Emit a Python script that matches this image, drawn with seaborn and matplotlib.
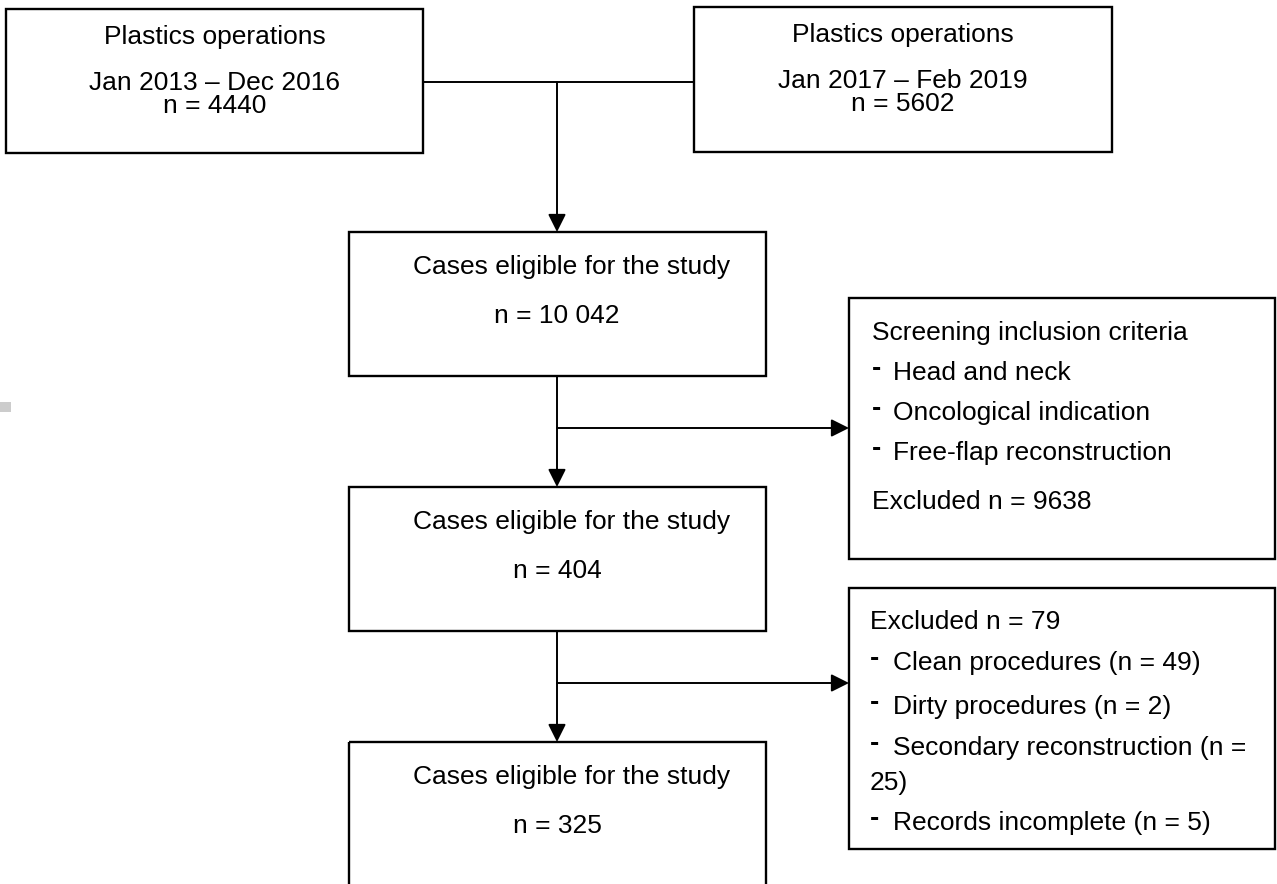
import matplotlib
matplotlib.use("Agg")
import matplotlib.pyplot as plt
import matplotlib.patches as patches
import seaborn as sns

# Flowchart data
period_labels = ["Jan 2013 – Dec 2016", "Jan 2017 – Feb 2019"]
period_n = [4440, 5602]
stage_label = "Cases eligible for the study"
stage_n = [10042, 404, 325]
screen_title = "Screening inclusion criteria"
screen_criteria = ["Head and neck", "Oncological indication", "Free-flap reconstruction"]
screen_excluded = 9638
excluded_total = 79
exclusion_reasons = ["Clean procedures", "Dirty procedures", "Secondary reconstruction", "Records incomplete"]
exclusion_n = [49, 2, 25, 5]


def fmt_n(n):
    # five-digit numbers get a space as thousands separator (as in the original)
    if n >= 10000:
        return f"{n:,}".replace(",", " ")
    return str(n)


sns.set_theme(style="white")
plt.rcParams['font.family'] = ['Liberation Sans', 'DejaVu Sans']
plt.rcParams['text.color'] = 'black'

fig = plt.figure(figsize=(12.77, 8.84), dpi=100)
ax = fig.add_axes([0, 0, 1, 1])
ax.set_xlim(0, 1277)
ax.set_ylim(884, 0)
ax.axis('off')

FS = 19
LW = 1.7


def box(x0, y0, x1, y1):
    ax.add_patch(patches.Rectangle((x0, y0), x1 - x0, y1 - y0, fill=False,
                                   edgecolor='black', linewidth=LW))


def arrow(x0, y0, x1, y1):
    ax.annotate("", xy=(x1, y1), xytext=(x0, y0),
                arrowprops=dict(arrowstyle='-|>,head_length=0.4,head_width=0.2',
                                mutation_scale=27, lw=1.4, color='black',
                                shrinkA=0, shrinkB=0))


# --- top boxes (two time periods) ---
top_boxes = [(6, 9, 423, 153), (694, 7, 1112, 152)]
for (x0, y0, x1, y1), lab, n in zip(top_boxes, period_labels, period_n):
    box(x0, y0, x1, y1)
    cx = (x0 + x1) / 2
    ax.text(cx, y0 + 28, "Plastics operations", ha='center', va='center', fontsize=FS)
    ax.text(cx, y0 + 74, lab, ha='center', va='center', fontsize=FS)
    ax.text(cx, y0 + 97, f"n = {fmt_n(n)}", ha='center', va='center', fontsize=FS)

# connector between the two top boxes
ax.plot([423, 694], [82, 82], color='black', lw=1.4)

# --- main column ---
main_x = 557
stage_boxes = [(349, 232, 766, 376), (349, 487, 766, 631), (349, 742, 766, 950)]
for (x0, y0, x1, y1), n in zip(stage_boxes, stage_n):
    box(x0, y0, x1, y1)
    ax.text(572, y0 + 35, stage_label, ha='center', va='center', fontsize=FS)
    ax.text(main_x, y0 + 84, f"n = {fmt_n(n)}", ha='center', va='center', fontsize=FS)

arrow(main_x, 82, main_x, 232)
arrow(main_x, 376, main_x, 487)
arrow(main_x, 631, main_x, 742)

# side arrows to exclusion boxes
arrow(main_x, 428, 849, 428)
arrow(main_x, 683, 849, 683)

# --- screening box ---
box(849, 298, 1275, 559)
tx, bx = 872, 893
ax.text(tx, 333, screen_title, ha='left', va='center', fontsize=FS)
for i, crit in enumerate(screen_criteria):
    y = 373 + 40 * i
    ax.text(tx, y - 4, "-", ha='left', va='center', fontsize=FS + 1, fontweight='bold')
    ax.text(bx, y, crit, ha='left', va='center', fontsize=FS)
ax.text(tx, 502, f"Excluded n = {fmt_n(screen_excluded)}", ha='left', va='center', fontsize=FS)

# --- exclusion box ---
box(849, 588, 1275, 849)
ax.text(870, 622, f"Excluded n = {excluded_total}", ha='left', va='center', fontsize=FS)
ys = [663, 707, 748, 823]
for y, reason, n in zip(ys, exclusion_reasons, exclusion_n):
    ax.text(870, y - 4, "-", ha='left', va='center', fontsize=FS + 1, fontweight='bold')
    label = f"{reason} (n = {n})"
    if len(label) > 30:
        head, tail = label.rsplit(" ", 1)
        ax.text(893, y, head, ha='left', va='center', fontsize=FS)
        ax.text(870, y + 35, tail, ha='left', va='center', fontsize=FS)
    else:
        ax.text(893, y, label, ha='left', va='center', fontsize=FS)

# small grey mark at the left edge of the original scan
ax.add_patch(patches.Rectangle((0, 402), 11, 10, color='#cccccc', lw=0))

fig.savefig("out.png", dpi=100, facecolor='white')
